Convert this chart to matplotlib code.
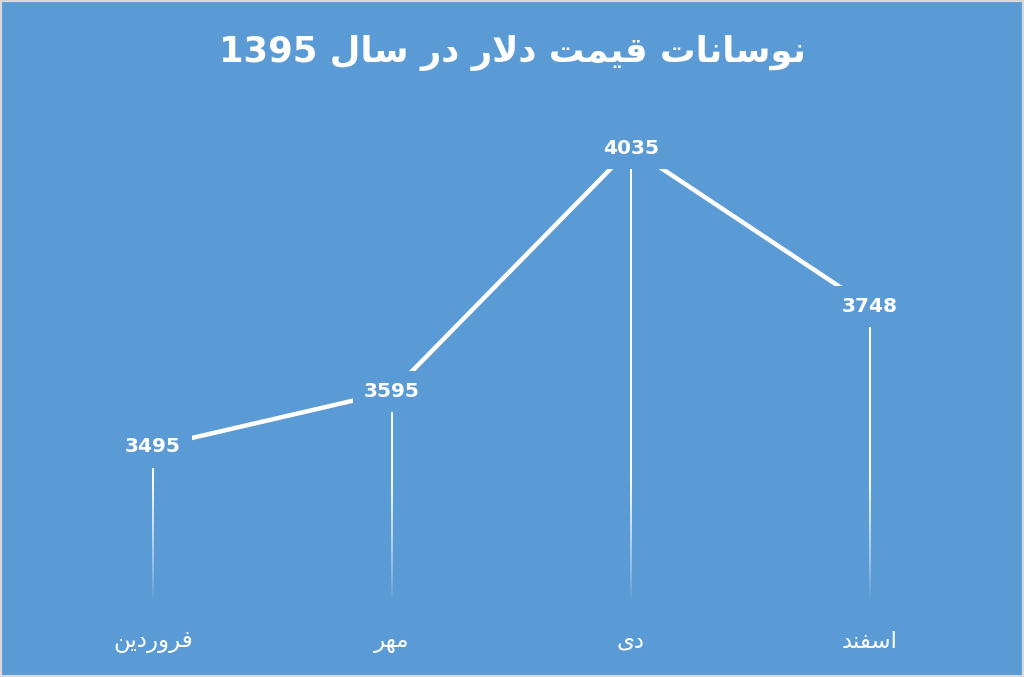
import numpy as np
import matplotlib
matplotlib.use('Agg')
import matplotlib.pyplot as plt
from matplotlib.collections import LineCollection
from matplotlib.patches import Rectangle

# chart data
months = ['فروردین', 'مهر', 'دی', 'اسفند']
prices = [3495, 3595, 4035, 3748]
title = 'نوسانات قیمت دلار در سال 1395'

BG = '#5B9BD5'

# matplotlib has no arabic shaping, so pick the presentation forms by hand
# (isolated, final, initial, medial) - None means the letter does not join forward
FORMS = {
    'ا': ('\ufe8d', '\ufe8e', None, None),
    'ت': ('\ufe95', '\ufe96', '\ufe97', '\ufe98'),
    'د': ('\ufea9', '\ufeaa', None, None),
    'ر': ('\ufead', '\ufeae', None, None),
    'س': ('\ufeb1', '\ufeb2', '\ufeb3', '\ufeb4'),
    'ف': ('\ufed1', '\ufed2', '\ufed3', '\ufed4'),
    'ق': ('\ufed5', '\ufed6', '\ufed7', '\ufed8'),
    'ل': ('\ufedd', '\ufede', '\ufedf', '\ufee0'),
    'م': ('\ufee1', '\ufee2', '\ufee3', '\ufee4'),
    'ن': ('\ufee5', '\ufee6', '\ufee7', '\ufee8'),
    'ه': ('\ufee9', '\ufeea', '\ufeeb', '\ufeec'),
    'و': ('\ufeed', '\ufeee', None, None),
    'ی': ('\ufbfc', '\ufbfd', '\ufbfe', '\ufbff'),
}


def shape_word(word):
    out = []
    i = 0
    while i < len(word):
        ch = word[i]
        prev_joins = i > 0 and word[i-1] in FORMS and FORMS[word[i-1]][2] is not None
        if ch == 'ل' and i + 1 < len(word) and word[i+1] == 'ا':
            out.append('\ufefc' if prev_joins else '\ufefb')
            i += 2
            continue
        forms = FORMS.get(ch)
        if forms is None:
            out.append(ch)
            i += 1
            continue
        next_joins = forms[2] is not None and i + 1 < len(word) and word[i+1] in FORMS
        if prev_joins and next_joins:
            out.append(forms[3])
        elif prev_joins:
            out.append(forms[1])
        elif next_joins:
            out.append(forms[2])
        else:
            out.append(forms[0])
        i += 1
    return ''.join(out)


def visual(text):
    # right-to-left: reverse the words and the letters, keep numbers as they are
    parts = [w if w.isdigit() else shape_word(w)[::-1] for w in text.split(' ')]
    return ' '.join(parts[::-1])


fig = plt.figure(figsize=(10.24, 6.77), dpi=100)
fig.patch.set_facecolor(BG)
fig.patches.append(Rectangle((0, 0), 1, 1, transform=fig.transFigure,
                             fill=False, edgecolor='#D9D9D9', linewidth=3))

ax = fig.add_axes([0.0327, 0.0985, 0.9336, 0.736])
ax.set_facecolor('none')
ax.set_xlim(-0.5, len(months) - 0.5)
ax.set_ylim(3200, 4100)
for s in ax.spines.values():
    s.set_visible(False)
ax.set_yticks([])
x = np.arange(len(months))
ax.set_xticks(x)
ax.set_xticklabels([visual(m) for m in months], color='white', fontsize=16.5)
ax.tick_params(axis='x', length=0, pad=14)

# drop lines, fading out towards the bottom
ybot = ax.get_ylim()[0]
for xi, v in zip(x, prices):
    ys = np.linspace(ybot, v, 120)
    segs = [[(xi, ys[k]), (xi, ys[k+1])] for k in range(len(ys) - 1)]
    mid = (ys[:-1] + ys[1:]) / 2
    alpha = np.clip((mid - 3220) / (3440 - 3220), 0, 1) ** 0.8
    cols = [(1, 1, 1, a) for a in alpha]
    ax.add_collection(LineCollection(segs, colors=cols, linewidths=1.4, zorder=2))

ax.plot(x, prices, color='white', linewidth=3.2, solid_capstyle='butt', zorder=3)

for xi, v in zip(x, prices):
    ax.text(xi, v, str(v), ha='center', va='center', color='white',
            fontsize=14.5, fontweight='bold', zorder=4,
            bbox=dict(boxstyle='square,pad=0.55', facecolor=BG, edgecolor='none'))

fig.text(0.5, 1 - 53 / 677, visual(title), ha='center', va='center',
         color='white', fontsize=25.5, fontweight='bold')

fig.savefig('out.png', dpi=100, facecolor=BG)
